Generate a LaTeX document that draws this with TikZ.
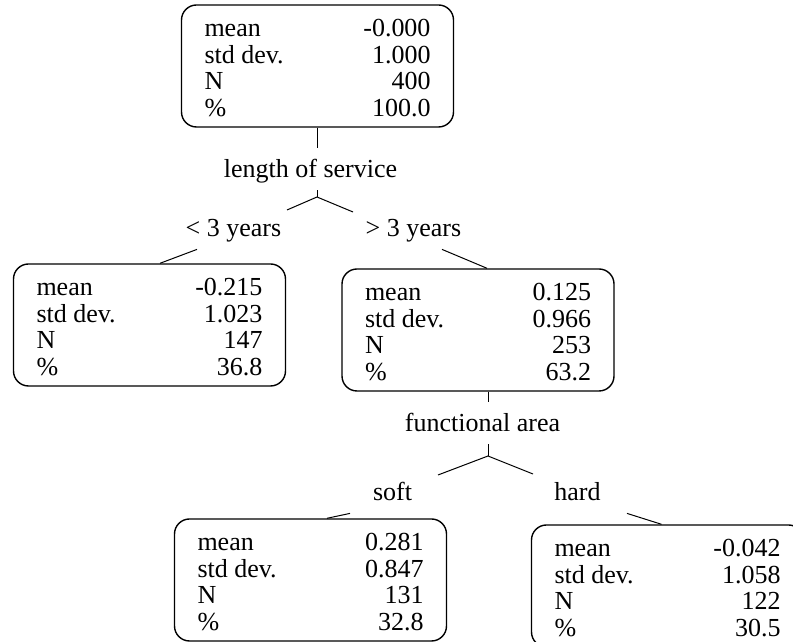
\documentclass[tikz,border=0pt]{standalone}
\usepackage{fontspec}
\setmainfont{Liberation Serif}
\usepackage{tikz}
\usetikzlibrary{positioning,calc}

\newcommand{\stattab}[4]{%
  \raisebox{-2.5pt}[\height][\depth]{%
  \begin{tabular*}{113pt}{@{}l@{\extracolsep{\fill}}r@{}}
  mean & #1 \\ std dev. & #2 \\ N & #3 \\ \% & #4
  \end{tabular*}}}

\begin{document}
\begin{tikzpicture}[font=\fontsize{13}{13.25}\selectfont,
		statbox/.style={draw, line width=0.7pt, rounded corners=7.5pt,
		minimum width=136pt, minimum height=61pt, inner sep=0pt},
		splitlabel/.style={inner sep=0pt, anchor=base, text height=15pt, text depth=6pt},
		branchlabel/.style={inner sep=0pt, anchor=base, text height=10pt, text depth=6pt},
		link/.style={line width=0.5pt}]
		\useasboundingbox (0,0) rectangle (396.5pt,321pt);
		\clip (0,0) rectangle (396.5pt,321pt);

		% the boxes
		\node[statbox] (root) at (158.75pt,288pt) {\stattab{-0.000}{1.000}{400}{100.0}};
		\node[statbox] (short) at (74.75pt,158.5pt) {\stattab{-0.215}{1.023}{147}{36.8}};
		\node[statbox] (long) at (239pt,156pt) {\stattab{0.125}{0.966}{253}{63.2}};
		\node[statbox] (soft) at (155.25pt,31pt) {\stattab{0.281}{0.847}{131}{32.8}};
		\node[statbox] (hard) at (333.75pt,28pt) {\stattab{-0.042}{1.058}{122}{30.5}};

		% split and branch labels
		\node[splitlabel] (service) at (155.25pt,232pt) {length of service};
		\node[branchlabel] (shortlbl) at (116.75pt,202.5pt) {< 3 years};
		\node[branchlabel] (longlbl) at (206.75pt,202.5pt) {> 3 years};
		\node[splitlabel] (area) at (241.25pt,105pt) {functional area};
		\node[branchlabel] (softlbl) at (196.25pt,70.5pt) {soft};
		\node[branchlabel] (hardlbl) at (288.75pt,70.5pt) {hard};

		\coordinate (fork1) at (158.5pt,222.5pt);
		\coordinate (fork1l) at (143.5pt,216pt);
		\coordinate (fork1r) at (176.5pt,215pt);
		\coordinate (fork2) at (244pt,93pt);
		\coordinate (fork2l) at (219pt,83.5pt);
		\coordinate (fork2r) at (266.5pt,84pt);

		% first split
		\draw[link] (root.south -| fork1) -- (service.north -| fork1);
		\draw[link] (service.south -| fork1) -- (fork1);
		\draw[link] (fork1l) -- (fork1) -- (fork1r);
		\draw[link] ([xshift=-18.25pt]shortlbl.south) -- ([xshift=5.25pt]short.north);
		\draw[link] ([xshift=14.25pt]longlbl.south) -- ([xshift=4.5pt]long.north);

		% second split
		\draw[link] (long.south -| fork2) -- (area.north -| fork2);
		\draw[link] (area.south -| fork2) -- (fork2);
		\draw[link] (fork2l) -- (fork2) -- (fork2r);
		\draw[link] ([xshift=-21.25pt]softlbl.south) -- ([xshift=8.25pt]soft.north);
		\draw[link] ([xshift=24.75pt]hardlbl.south) -- ([xshift=-3pt]hard.north);
	\end{tikzpicture}
\end{document}
